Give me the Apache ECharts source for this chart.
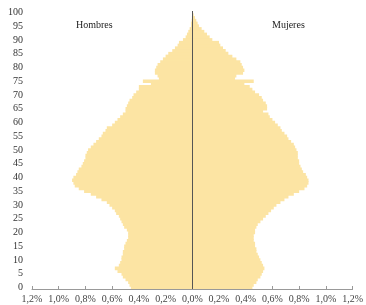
<!DOCTYPE html>
<html>
<head>
<meta charset="utf-8">
<script src="https://cdn.jsdelivr.net/npm/echarts@6/dist/echarts.min.js"></script>
<style>
  html, body { margin: 0; padding: 0; background: #fff; }
  #main { width: 366px; height: 305px; }
</style>
</head>
<body>
<div id="main"></div>
<script>
// ages 0..100
var ages = [];
for (var a = 0; a <= 100; a++) ages.push(String(a));

// % of population by single year of age
var hombres = [
  0.46, 0.47, 0.48, 0.50, 0.52, 0.53, 0.56, 0.58, 0.55, 0.54,
  0.53, 0.53, 0.52, 0.52, 0.51, 0.51, 0.50, 0.49, 0.48, 0.48,
  0.48, 0.49, 0.51, 0.52, 0.53, 0.54, 0.55, 0.57, 0.58, 0.60,
  0.62, 0.64, 0.68, 0.72, 0.76, 0.81, 0.85, 0.88, 0.89, 0.90,
  0.89, 0.87, 0.86, 0.85, 0.83, 0.82, 0.81, 0.80, 0.80, 0.79,
  0.78, 0.76, 0.74, 0.72, 0.70, 0.68, 0.67, 0.65, 0.64, 0.60,
  0.58, 0.56, 0.54, 0.52, 0.50, 0.50, 0.49, 0.48, 0.47, 0.45,
  0.44, 0.42, 0.40, 0.40, 0.31, 0.37, 0.25, 0.26, 0.28, 0.28,
  0.27, 0.26, 0.24, 0.22, 0.20, 0.18, 0.15, 0.13, 0.11, 0.10,
  0.07, 0.05, 0.04, 0.03, 0.02, 0.01, 0.01, 0.005, 0.003, 0.002,
  0.001
];
var mujeres = [
  0.45, 0.46, 0.48, 0.49, 0.51, 0.52, 0.53, 0.54, 0.53, 0.52,
  0.51, 0.50, 0.49, 0.48, 0.48, 0.47, 0.47, 0.46, 0.46, 0.46,
  0.47, 0.47, 0.48, 0.49, 0.51, 0.53, 0.55, 0.57, 0.59, 0.61,
  0.63, 0.66, 0.69, 0.72, 0.76, 0.80, 0.84, 0.86, 0.87, 0.87,
  0.86, 0.85, 0.83, 0.82, 0.81, 0.80, 0.80, 0.79, 0.79, 0.79,
  0.78, 0.77, 0.76, 0.74, 0.72, 0.71, 0.69, 0.67, 0.66, 0.64,
  0.62, 0.60, 0.58, 0.57, 0.53, 0.56, 0.56, 0.55, 0.53, 0.52,
  0.50, 0.47, 0.45, 0.43, 0.39, 0.46, 0.32, 0.33, 0.38, 0.39,
  0.38, 0.37, 0.36, 0.33, 0.30, 0.27, 0.25, 0.23, 0.21, 0.20,
  0.15, 0.13, 0.11, 0.09, 0.07, 0.05, 0.04, 0.03, 0.02, 0.01,
  0.005
];

var fill = '#FCE4A3';
var serif = '"Liberation Serif", "DejaVu Serif", serif';

var myChart = echarts.init(document.getElementById('main'));
myChart.setOption({
  animation: false,
  grid: { left: 32, right: 11, top: 11, bottom: 16, containLabel: false },
  graphic: [
    { type: 'text', left: 76, top: 20, style: { text: 'Hombres', font: '10px ' + serif, fill: '#222' } },
    { type: 'text', left: 272, top: 20, style: { text: 'Mujeres', font: '10px ' + serif, fill: '#222' } }
  ],
  xAxis: {
    type: 'value',
    min: -1.2,
    max: 1.2,
    interval: 0.2,
    splitLine: { show: false },
    axisLine: { show: true, lineStyle: { color: '#999' } },
    axisTick: { show: true, inside: true, length: 3, lineStyle: { color: '#999' } },
    axisLabel: {
      color: '#444',
      fontSize: 10,
      fontFamily: serif,
      margin: 5,
      formatter: function (v) { return Math.abs(v).toFixed(1).replace('.', ',') + '%'; }
    }
  },
  yAxis: {
    type: 'category',
    data: ages,
    axisLine: { show: false },
    axisTick: { show: false },
    axisLabel: { interval: 4, color: '#333', fontSize: 10, fontFamily: serif, margin: 9 }
  },
  series: [
    {
      name: 'Hombres',
      type: 'bar',
      data: hombres.map(function (v) { return -v; }),
      barGap: '-100%',
      barWidth: '130%',
      itemStyle: { color: fill },
      markLine: {
        silent: true,
        symbol: 'none',
        label: { show: false },
        lineStyle: { color: '#555', width: 1, type: 'solid' },
        data: [{ xAxis: 0 }]
      }
    },
    {
      name: 'Mujeres',
      type: 'bar',
      data: mujeres,
      barGap: '-100%',
      barWidth: '130%',
      itemStyle: { color: fill }
    }
  ]
});
</script>
</body>
</html>
